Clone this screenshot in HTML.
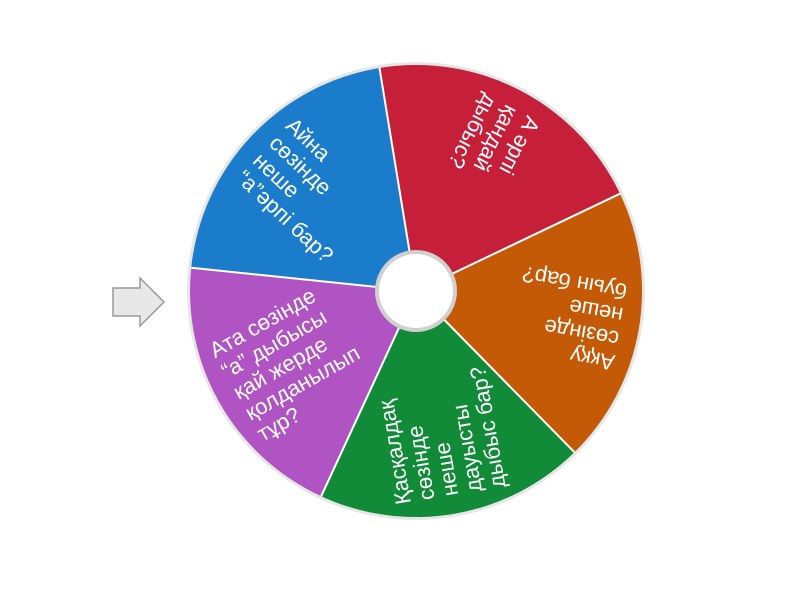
<!DOCTYPE html>
<html><head><meta charset="utf-8"><style>
html,body{margin:0;padding:0;background:#fff;width:800px;height:600px;overflow:hidden}
#wrap{position:relative;width:800px;height:600px}
svg{position:absolute;left:0;top:0}
.seg{position:absolute;left:416px;top:291px;width:0;height:0}
.t{position:absolute;left:-208px;top:0;transform:translateY(-50%);color:#fff;font-family:"Liberation Sans",sans-serif;font-size:22px;line-height:24px;white-space:nowrap}
</style></head><body><div id="wrap">
<svg width="800" height="600">
<circle cx="416" cy="291" r="229" fill="#e6e6e6"/>
<path d="M416 291 L379.5 68 A226 226 0 0 1 620 193.7 Z" fill="#c61f3a"/>
<path d="M416 291 L620 193.7 A226 226 0 0 1 574.4 452.2 Z" fill="#c45a06"/>
<path d="M416 291 L574.4 452.2 A226 226 0 0 1 321.2 496.2 Z" fill="#118b37"/>
<path d="M416 291 L321.2 496.2 A226 226 0 0 1 191.2 267.8 Z" fill="#b054c4"/>
<path d="M416 291 L191.2 267.8 A226 226 0 0 1 379.5 68 Z" fill="#1b7ccc"/>
<g stroke="#fff" stroke-width="2">
<line x1="416" y1="291" x2="379.5" y2="68"/><line x1="416" y1="291" x2="620" y2="193.7"/>
<line x1="416" y1="291" x2="574.4" y2="452.2"/><line x1="416" y1="291" x2="321.2" y2="496.2"/>
<line x1="416" y1="291" x2="191.2" y2="267.8"/></g>
<circle cx="416" cy="291" r="41" fill="#d0d0d0"/>
<circle cx="416" cy="291" r="37" fill="#fff"/>
<polygon points="113,288 140,288 140,278 164,302 140,326 140,316 113,316" fill="#e8e8e8" stroke="#999" stroke-width="1.5"/>
</svg>
<div class="seg" style="transform:rotate(43.3deg)"><div class="t">Айна<br>сөзінде<br>неше<br>“а”әрпі бар?</div></div>
<div class="seg" style="transform:rotate(117.6deg)"><div class="t">А әрпі<br>қандай<br>дыбыс?</div></div>
<div class="seg" style="transform:rotate(190deg)"><div class="t">Аққу<br>сөзінде<br>неше<br>буын бар?</div></div>
<div class="seg" style="transform:rotate(-99.8deg)"><div class="t">Қасқалдақ<br>сөзінде<br>неше<br>дауысты<br>дыбыс бар?</div></div>
<div class="seg" style="transform:rotate(-29.7deg)"><div class="t">Ата сөзінде<br>“а” дыбысы<br>қай жерде<br>қолданылып<br>тұр?</div></div>
</div></body></html>
